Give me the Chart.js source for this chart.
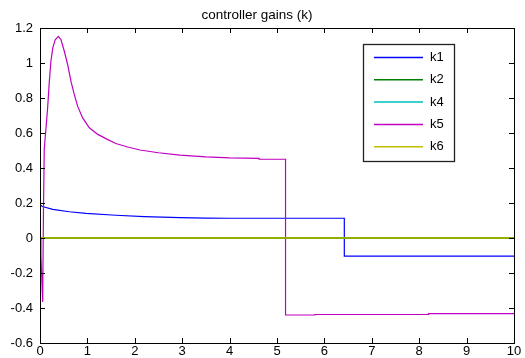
<!DOCTYPE html>
<html>
<head>
<meta charset="utf-8">
<script src="https://cdn.jsdelivr.net/npm/chart.js@4/dist/chart.umd.min.js"></script>
<style>
  html, body { margin: 0; padding: 0; background: #fff; }
  #wrap { width: 525px; height: 358px; position: relative; }
</style>
</head>
<body>
<div id="wrap"><canvas id="c" width="525" height="358"></canvas></div>
<script>
// ---- data ----
const chartTitle = 'controller gains (k)';
const seriesNames = ['k1', 'k2', 'k4', 'k5', 'k6'];

const k1X = [0, 0.05, 0.27, 0.62, 0.97, 1.6, 2.2, 2.95, 3.5, 4.0, 6.42, 6.42, 10];
const k1Y = [0.19, 0.18, 0.164, 0.15, 0.141, 0.13, 0.122, 0.116, 0.114, 0.113, 0.113, -0.104, -0.104];

const k2X = [0, 10];
const k2Y = [0.0, 0.0];

const k4X = [0, 10];
const k4Y = [0.0, 0.0];

const k5X = [0, 0.02, 0.056, 0.075, 0.09, 0.127, 0.16, 0.197, 0.23, 0.27, 0.32, 0.387, 0.443, 0.513, 0.584, 0.654, 0.724, 0.795, 0.9, 1.04, 1.22, 1.39, 1.6, 1.85, 2.11, 2.5, 2.95, 3.5, 4.0, 4.62, 4.62, 5.18, 5.18, 5.8, 5.8, 8.2, 8.2, 10];
const k5Y = [0, -0.1, -0.365, 0.2, 0.51, 0.63, 0.74, 0.895, 1.01, 1.086, 1.133, 1.152, 1.133, 1.067, 0.99, 0.895, 0.819, 0.752, 0.686, 0.63, 0.592, 0.568, 0.54, 0.52, 0.503, 0.487, 0.474, 0.464, 0.458, 0.455, 0.45, 0.45, -0.44, -0.44, -0.437, -0.437, -0.432, -0.432];

const k6X = [0, 10];
const k6Y = [0.0, 0.0];

const xTicks = [0, 1, 2, 3, 4, 5, 6, 7, 8, 9, 10];
const yTicks = [-0.6, -0.4, -0.2, 0, 0.2, 0.4, 0.6, 0.8, 1, 1.2];

const seriesColors = ['#0000ff', '#008000', '#00bfbf', '#bf00bf', '#bfbf00'];

// ---- build ----
const FONT = "'Liberation Sans', Arial, sans-serif";
const FS = 13;
function pts(xs, ys) { return xs.map((x, i) => ({ x: x, y: ys[i] })); }
const allX = [k1X, k2X, k4X, k5X, k6X];
const allY = [k1Y, k2Y, k4Y, k5Y, k6Y];
const drawOrder = [5, 3, 4, 2, 1];
const widths = [1.2, 2.0, 1.8, 1.2, 1.6];

const datasets = seriesNames.map((n, i) => ({
  label: n,
  data: pts(allX[i], allY[i]),
  borderColor: seriesColors[i],
  backgroundColor: seriesColors[i],
  borderWidth: widths[i],
  pointRadius: 0,
  tension: 0,
  fill: false,
  order: drawOrder[i]
}));

const framePlugin = {
  id: 'frame',
  afterDraw(chart) {
    const ctx = chart.ctx, a = chart.chartArea;
    const xs = chart.scales.x, ys = chart.scales.y;
    ctx.save();
    ctx.strokeStyle = '#000';
    ctx.lineWidth = 1;
    ctx.strokeRect(Math.round(a.left) + 0.5, Math.round(a.top) + 0.5,
                   Math.round(a.right - a.left), Math.round(a.bottom - a.top));
    const L = 5;
    ctx.beginPath();
    xTicks.forEach(v => {
      const px = Math.round(xs.getPixelForValue(v)) + 0.5;
      ctx.moveTo(px, a.bottom); ctx.lineTo(px, a.bottom - L);
      ctx.moveTo(px, a.top); ctx.lineTo(px, a.top + L);
    });
    yTicks.forEach(v => {
      const py = Math.round(ys.getPixelForValue(v)) + 0.5;
      ctx.moveTo(a.left, py); ctx.lineTo(a.left + L, py);
      ctx.moveTo(a.right, py); ctx.lineTo(a.right - L, py);
    });
    ctx.stroke();

    // legend box
    const bx = 363.5, by = 44.5, bw = 91, bh = 117;
    ctx.fillStyle = '#fff';
    ctx.fillRect(bx, by, bw, bh);
    ctx.lineWidth = 1.3;
    ctx.strokeStyle = '#222';
    ctx.strokeRect(bx, by, bw, bh);
    ctx.font = FS + 'px ' + FONT;
    ctx.textBaseline = 'middle';
    ctx.textAlign = 'left';
    chart.data.datasets.forEach((d, i) => {
      const yy = 57.5 + i * 22.3;
      ctx.strokeStyle = d.borderColor;
      ctx.lineWidth = 1.5;
      ctx.beginPath();
      ctx.moveTo(374, yy); ctx.lineTo(423, yy);
      ctx.stroke();
      ctx.fillStyle = '#000';
      ctx.fillText(d.label, 430, yy);
    });
    ctx.restore();
  }
};

new Chart(document.getElementById('c'), {
  type: 'line',
  data: { datasets: datasets },
  options: {
    responsive: false,
    animation: false,
    layout: { padding: { left: 0, right: 11, top: 0, bottom: 0 } },
    plugins: {
      legend: { display: false },
      tooltip: { enabled: false },
      title: {
        display: true,
        text: chartTitle,
        color: '#000',
        font: { family: FONT, size: 13.5, weight: 'normal' },
        padding: { top: 7, bottom: 4.8 }
      }
    },
    scales: {
      x: {
        type: 'linear',
        min: 0, max: 10,
        afterFit(s) { s.height = 15; },
        afterBuildTicks(s) { s.ticks = xTicks.map(v => ({ value: v })); },
        ticks: { color: '#000', font: { family: FONT, size: FS }, padding: 1, maxRotation: 0, autoSkip: false },
        grid: { display: false, drawTicks: false },
        border: { display: false }
      },
      y: {
        type: 'linear',
        min: -0.6, max: 1.2,
        afterFit(s) { s.width = 40; },
        afterBuildTicks(s) { s.ticks = yTicks.map(v => ({ value: v })); },
        ticks: {
          color: '#000', font: { family: FONT, size: FS }, padding: 7, autoSkip: false,
          callback: v => String(parseFloat(Number(v).toFixed(1)))
        },
        grid: { display: false, drawTicks: false },
        border: { display: false }
      }
    }
  },
  plugins: [framePlugin]
});
</script>
</body>
</html>
